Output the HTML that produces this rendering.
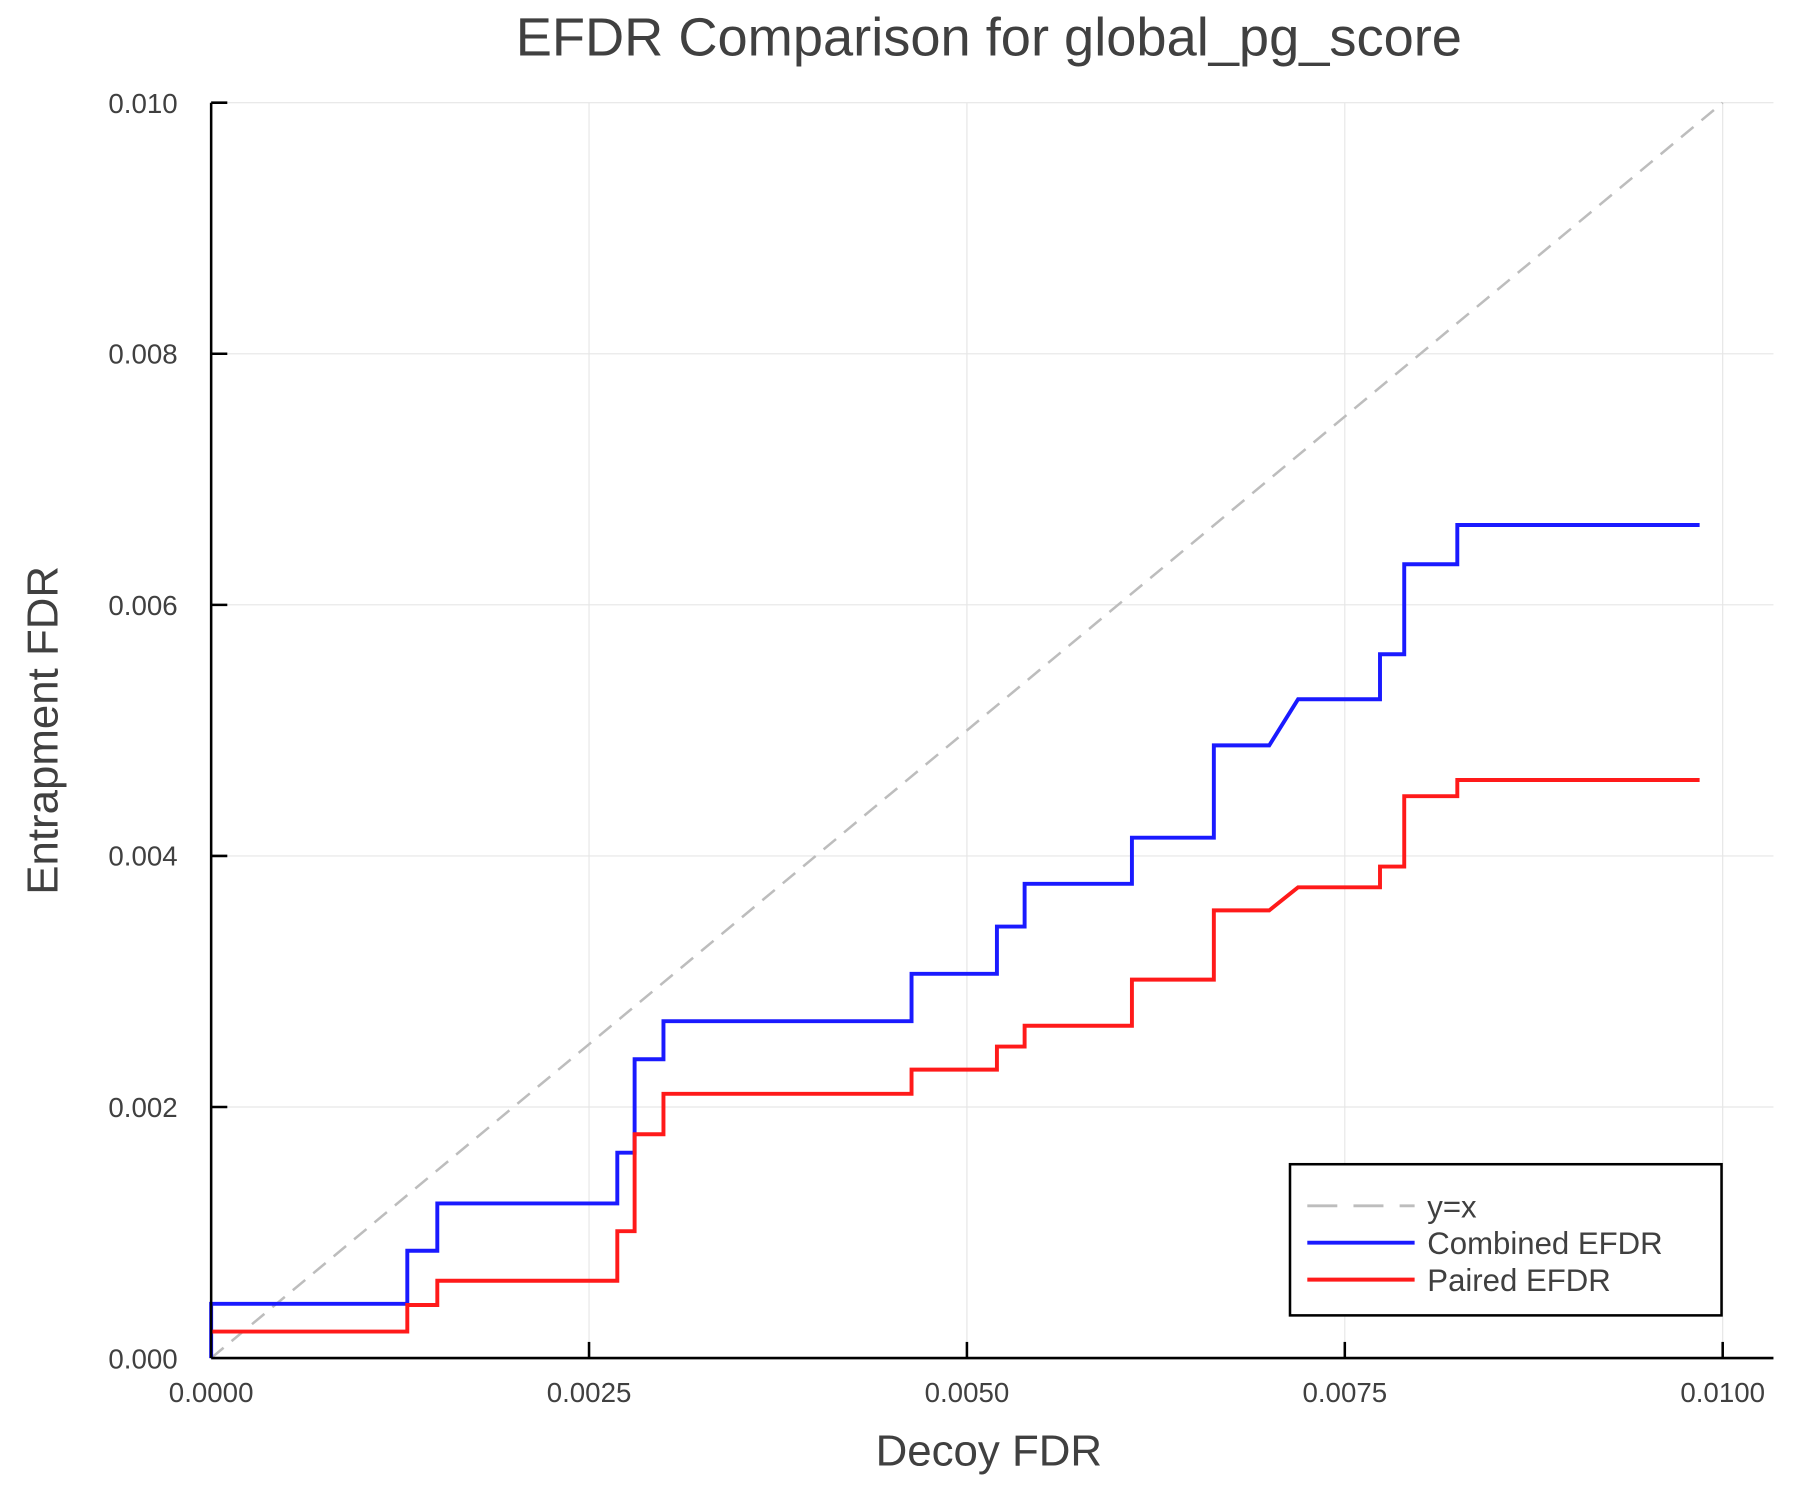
<!DOCTYPE html>
<html><head><meta charset="utf-8"><style>
html,body{margin:0;padding:0;background:#fff}
svg{display:block}
text{font-family:"Liberation Sans",Arial,sans-serif;fill:#404040}
</style></head><body>
<svg width="1800" height="1500" viewBox="0 0 1560 1300" xmlns="http://www.w3.org/2000/svg">
<rect width="1560" height="1300" fill="#fff"/>
<g stroke="#e6e6e6" stroke-width="1">
<line x1="510.5" y1="89" x2="510.5" y2="1177"/>
<line x1="838" y1="89" x2="838" y2="1177"/>
<line x1="1165.5" y1="89" x2="1165.5" y2="1177"/>
<line x1="1493" y1="89" x2="1493" y2="1177"/>
<line x1="183" y1="89" x2="1537" y2="89"/>
<line x1="183" y1="306.6" x2="1537" y2="306.6"/>
<line x1="183" y1="524.2" x2="1537" y2="524.2"/>
<line x1="183" y1="741.8" x2="1537" y2="741.8"/>
<line x1="183" y1="959.4" x2="1537" y2="959.4"/>
</g>
<line x1="183" y1="1177" x2="1493" y2="89" stroke="#bdbdbd" stroke-width="2.2" stroke-dasharray="14,9"/>
<polyline fill="none" stroke="#1a1aff" stroke-width="3.4" points="183,1177 183,1130 353,1130 353,1084 379,1084 379,1043 535,1043 535,999 550,999 550,918 575,918 575,885 790,885 790,844 864,844 864,803 888,803 888,766 981,766 981,726 1052,726 1052,646 1100,646 1125,606 1196,606 1196,567 1217,567 1217,489 1263,489 1263,455 1473,455"/>
<polyline fill="none" stroke="#ff1a1a" stroke-width="3.4" points="183,1154 353,1154 353,1131 379,1131 379,1110 535,1110 535,1067 550,1067 550,983 575,983 575,948 790,948 790,927 864,927 864,907 888,907 888,889 981,889 981,849 1052,849 1052,789 1100,789 1125,769 1196,769 1196,751 1217,751 1217,690 1263,690 1263,676 1473,676"/>
<g stroke="#000" stroke-width="2.2">
<line x1="183" y1="1177" x2="1537" y2="1177"/>
<line x1="183" y1="89" x2="183" y2="1177"/>
<line x1="510.5" y1="1177" x2="510.5" y2="1163"/>
<line x1="838" y1="1177" x2="838" y2="1163"/>
<line x1="1165.5" y1="1177" x2="1165.5" y2="1163"/>
<line x1="1493" y1="1177" x2="1493" y2="1163"/>
<line x1="183" y1="89" x2="197" y2="89"/>
<line x1="183" y1="306.6" x2="197" y2="306.6"/>
<line x1="183" y1="524.2" x2="197" y2="524.2"/>
<line x1="183" y1="741.8" x2="197" y2="741.8"/>
<line x1="183" y1="959.4" x2="197" y2="959.4"/>
</g>
<g font-size="24" text-anchor="end">
<text x="154" y="98">0.010</text>
<text x="154" y="315">0.008</text>
<text x="154" y="533">0.006</text>
<text x="154" y="750">0.004</text>
<text x="154" y="968">0.002</text>
<text x="154" y="1186">0.000</text>
</g>
<g font-size="24" text-anchor="middle">
<text x="183" y="1215">0.0000</text>
<text x="510.5" y="1215">0.0025</text>
<text x="838" y="1215">0.0050</text>
<text x="1165.5" y="1215">0.0075</text>
<text x="1493" y="1215">0.0100</text>
</g>
<text x="857" y="48" font-size="47" text-anchor="middle">EFDR Comparison for global_pg_score</text>
<text x="857" y="1270" font-size="38" text-anchor="middle">Decoy FDR</text>
<text transform="translate(50,633) rotate(-90)" font-size="38" text-anchor="middle">Entrapment FDR</text>
<rect x="1118" y="1009" width="374" height="131" fill="#fff" stroke="#000" stroke-width="2.2"/>
<line x1="1133" y1="1045" x2="1226" y2="1045" stroke="#bdbdbd" stroke-width="2.5" stroke-dasharray="26,14"/>
<line x1="1133" y1="1077" x2="1226" y2="1077" stroke="#1a1aff" stroke-width="3.4"/>
<line x1="1133" y1="1109" x2="1226" y2="1109" stroke="#ff1a1a" stroke-width="3.4"/>
<g font-size="27">
<text x="1237" y="1055">y=x</text>
<text x="1237" y="1087">Combined EFDR</text>
<text x="1237" y="1119">Paired EFDR</text>
</g>
</svg>
</body></html>
